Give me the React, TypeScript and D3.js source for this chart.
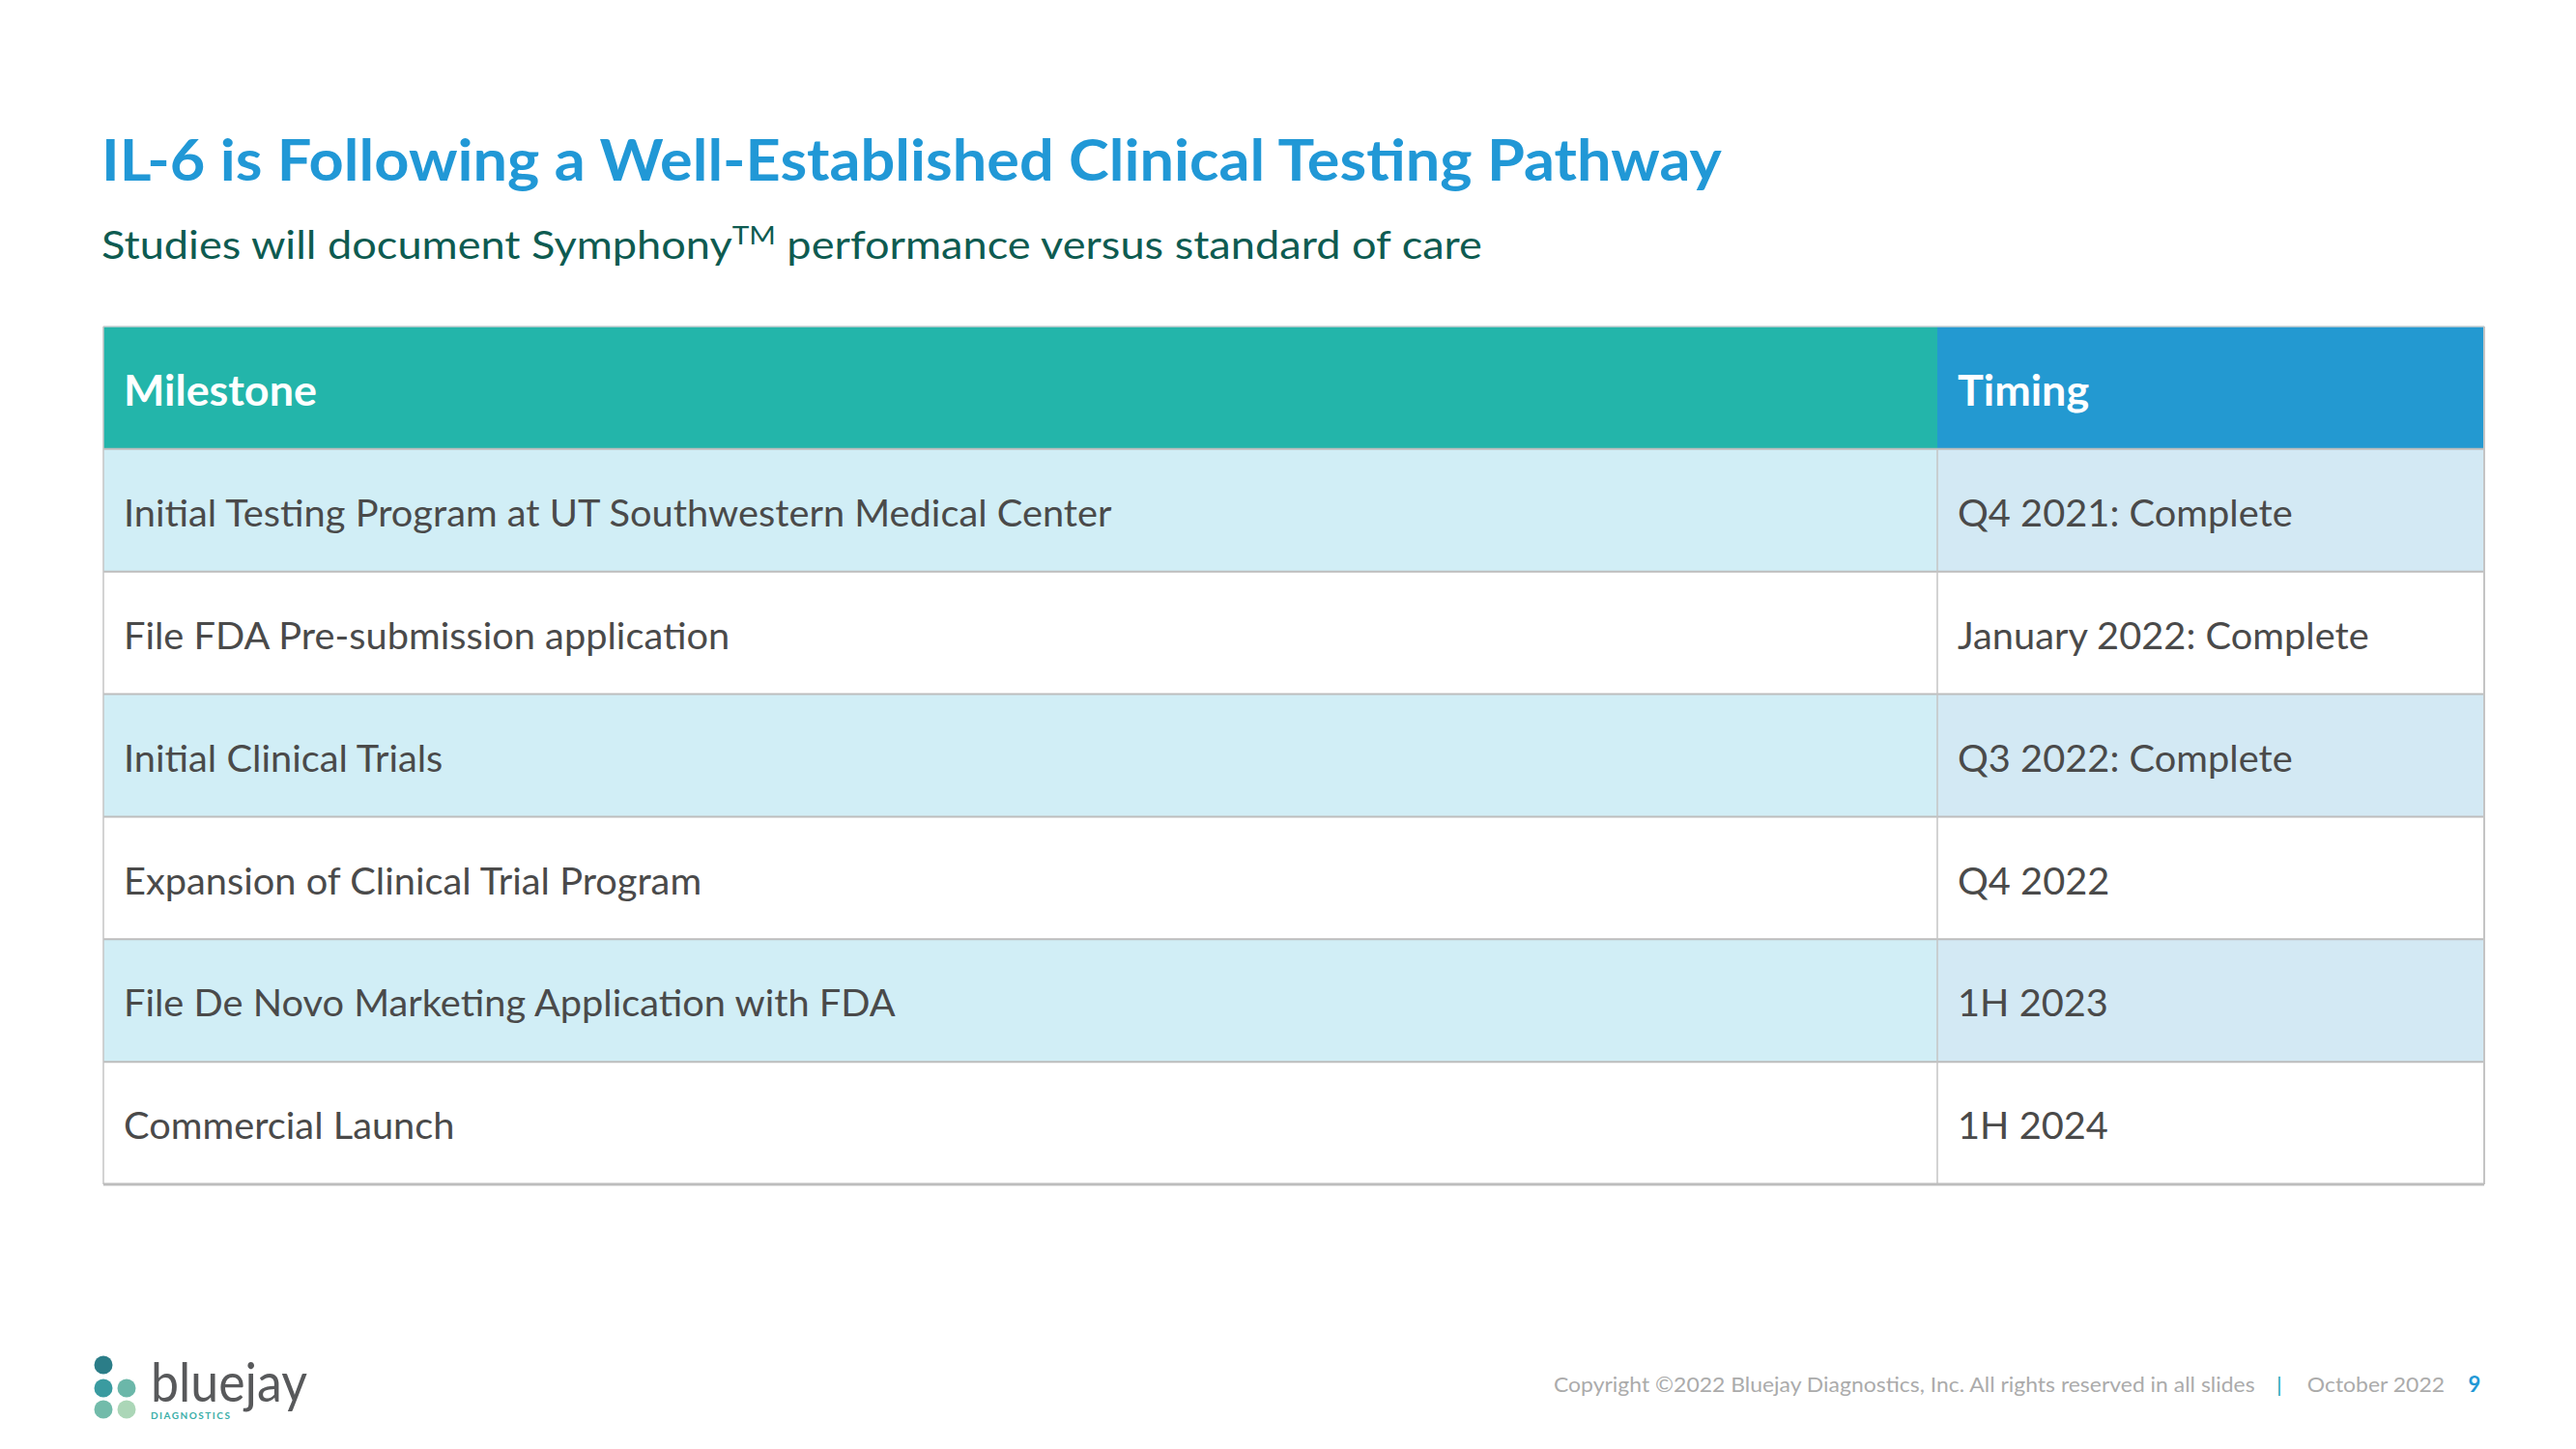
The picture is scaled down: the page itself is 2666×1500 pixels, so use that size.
import React, { useLayoutEffect, useRef, useState } from "react";
import * as d3 from "d3";

// ---------- data ----------
const TITLE = "IL-6 is Following a Well-Established Clinical Testing Pathway";
const SUBTITLE_A = "Studies will document Symphony";
const SUBTITLE_SUP = "TM";
const SUBTITLE_B = " performance versus standard of care";
const HEADERS = ["Milestone", "Timing"];
const MILESTONES = [
  "Initial Testing Program at UT Southwestern Medical Center",
  "File FDA Pre-submission application",
  "Initial Clinical Trials",
  "Expansion of Clinical Trial Program",
  "File De Novo Marketing Application with FDA",
  "Commercial Launch",
];
const TIMINGS = [
  "Q4 2021: Complete",
  "January 2022: Complete",
  "Q3 2022: Complete",
  "Q4 2022",
  "1H 2023",
  "1H 2024",
];
const FOOTER_COPY = "Copyright ©2022 Bluejay Diagnostics, Inc. All rights reserved in all slides";
const FOOTER_DATE = "October  2022";
const PAGE_NUM = "9";

// ---------- layout / style ----------
const W = 2666;
const H = 1500;
const FONT = "Lato, 'Open Sans', sans-serif";
const TABLE = { x0: 107, x1: 2571, split: 2005, y0: 338, y1: 1226 };
const PAD = 21;

// calibration widths (px) for horizontal font compression per style
const CAL = {
  title: 1677,
  subtitle: 1429,
  header: 200,
  body: 1023,
  footer: 726,
  logo: 162,
};

export default function App() {
  const refs = {
    title: useRef<SVGTextElement>(null),
    subtitle: useRef<SVGTextElement>(null),
    header: useRef<SVGTextElement>(null),
    body: useRef<SVGTextElement>(null),
    footer: useRef<SVGTextElement>(null),
    logo: useRef<SVGTextElement>(null),
  };
  const [sx, setSx] = useState<Record<string, number>>({
    title: 1, subtitle: 1, header: 1, body: 1, footer: 1, logo: 1,
  });

  useLayoutEffect(() => {
    const next: Record<string, number> = {};
    (Object.keys(CAL) as (keyof typeof CAL)[]).forEach((k) => {
      const el = refs[k].current;
      if (el) {
        const w = el.getComputedTextLength();
        next[k] = w > 0 ? CAL[k] / w : 1;
      } else next[k] = 1;
    });
    setSx(next);
  }, []);

  const rowKeys = d3.range(MILESTONES.length + 1);
  const y = d3.scaleBand<number>().domain(rowKeys).range([TABLE.y0, TABLE.y1]);
  const colX = d3.scaleOrdinal<number, number>().domain([0, 1]).range([TABLE.x0, TABLE.split]);
  const colW = d3.scaleOrdinal<number, number>().domain([0, 1]).range([TABLE.split - TABLE.x0, TABLE.x1 - TABLE.split]);
  const rh = y.bandwidth();

  const headerFill = ["#23B5AA", "#2399D1"];
  const oddFill = ["#D1EEF6", "#D3E9F4"];
  const bodyColor = "#4A4A4A";

  const bodySize = 38;
  const headerSize = 44;

  const textAt = (x: number, yy: number, s: number) => `translate(${x},${yy}) scale(${s},1)`;

  const dots = [
    { cx: 107, cy: 1413, c: "#2B7D88" },
    { cx: 107, cy: 1437, c: "#3A9BA0" },
    { cx: 131, cy: 1437, c: "#6BB7A9" },
    { cx: 107, cy: 1459, c: "#72BBAA" },
    { cx: 131, cy: 1459, c: "#ABD6B7" },
  ];

  return (
    <svg
      width={W}
      height={H}
      viewBox={`0 0 ${W} ${H}`}
      style={{ position: "absolute", left: 0, top: 0, background: "#fff" }}
    >
      <rect width={W} height={H} fill="#ffffff" />

      {/* title */}
      <text
        ref={refs.title}
        transform={textAt(105, 187, sx.title)}
        fontFamily={FONT}
        fontWeight={700}
        fontSize={60}
        fill="#2198D6"
      >
        {TITLE}
      </text>
      <text
        ref={refs.subtitle}
        transform={textAt(105, 268, sx.subtitle)}
        fontFamily={FONT}
        fontSize={41}
        fill="#0E5B51"
      >
        {SUBTITLE_A}
        <tspan fontSize={27} dy={-15}>{SUBTITLE_SUP}</tspan>
        <tspan dy={15}>{SUBTITLE_B}</tspan>
      </text>

      {/* table cells */}
      {rowKeys.map((r) =>
        [0, 1].map((c) => {
          const fill = r === 0 ? headerFill[c] : (r - 1) % 2 === 0 ? oddFill[c] : "#FFFFFF";
          return (
            <rect
              key={`cell-${r}-${c}`}
              x={colX(c)}
              y={y(r)}
              width={colW(c)}
              height={rh}
              fill={fill}
            />
          );
        })
      )}

      {/* horizontal grid lines */}
      {rowKeys.slice(1).map((r) => (
        <line
          key={`h-${r}`}
          x1={TABLE.x0}
          x2={TABLE.x1}
          y1={y(r)}
          y2={y(r)}
          stroke="#BDBDBD"
          strokeWidth={2}
        />
      ))}
      {/* vertical divider (body only) */}
      <line
        x1={TABLE.split}
        x2={TABLE.split}
        y1={y(1)}
        y2={TABLE.y1}
        stroke="#C4C4C4"
        strokeWidth={1.5}
      />
      {/* outer border */}
      <line x1={TABLE.x0} x2={TABLE.x1} y1={TABLE.y0} y2={TABLE.y0} stroke="#C8CFD2" strokeWidth={1.5} />
      <line x1={TABLE.x0} x2={TABLE.x0} y1={TABLE.y0} y2={TABLE.y1} stroke="#C4C4C4" strokeWidth={1.5} />
      <line x1={TABLE.x1} x2={TABLE.x1} y1={TABLE.y0} y2={TABLE.y1} stroke="#C4C4C4" strokeWidth={2} />
      <line x1={TABLE.x0} x2={TABLE.x1} y1={TABLE.y1} y2={TABLE.y1} stroke="#BDBDBD" strokeWidth={3} />

      {/* header text */}
      {HEADERS.map((h, c) => (
        <text
          key={`hd-${c}`}
          ref={c === 0 ? refs.header : undefined}
          transform={textAt(colX(c) + PAD, (y(0) as number) + rh / 2 + headerSize * 0.36 + 3, sx.header)}
          fontFamily={FONT}
          fontWeight={700}
          fontSize={headerSize}
          fill="#FFFFFF"
        >
          {h}
        </text>
      ))}

      {/* body text */}
      {MILESTONES.map((m, i) => (
        <text
          key={`m-${i}`}
          ref={i === 0 ? refs.body : undefined}
          transform={textAt(colX(0) + PAD, (y(i + 1) as number) + rh / 2 + bodySize * 0.36 + 3, sx.body)}
          fontFamily={FONT}
          fontSize={bodySize}
          fill={bodyColor}
        >
          {m}
        </text>
      ))}
      {TIMINGS.map((t, i) => (
        <text
          key={`t-${i}`}
          transform={textAt(colX(1) + PAD, (y(i + 1) as number) + rh / 2 + bodySize * 0.36 + 3, sx.body)}
          fontFamily={FONT}
          fontSize={bodySize}
          fill={bodyColor}
        >
          {t}
        </text>
      ))}

      {/* footer */}
      <text
        ref={refs.footer}
        transform={textAt(1608, 1441, sx.footer)}
        fontFamily={FONT}
        fontSize={22}
        fill="#ABABAB"
      >
        {FOOTER_COPY}
      </text>
      <text
        transform={textAt(2356, 1441, sx.footer)}
        fontFamily={FONT}
        fontSize={22}
        fill="#2AA6B8"
      >
        |
      </text>
      <text
        transform={textAt(2530, 1441, sx.footer)}
        textAnchor="end"
        fontFamily={FONT}
        fontSize={22}
        fill="#ABABAB"
      >
        {FOOTER_DATE}
      </text>
      <text
        x={2561}
        y={1441}
        textAnchor="middle"
        fontFamily={FONT}
        fontWeight={700}
        fontSize={22}
        fill="#2198D6"
      >
        {PAGE_NUM}
      </text>

      {/* logo */}
      {dots.map((d, i) => (
        <circle key={`dot-${i}`} cx={d.cx} cy={d.cy} r={9.5} fill={d.c} />
      ))}
      <text
        ref={refs.logo}
        transform={textAt(156, 1451, sx.logo)}
        fontFamily={FONT}
        fontSize={56}
        fill="#58595B"
      >
        bluejay
      </text>
      <text
        x={156}
        y={1469}
        fontFamily={FONT}
        fontWeight={700}
        fontSize={10}
        letterSpacing={1.5}
        fill="#3AAEA8"
      >
        DIAGNOSTICS
      </text>
    </svg>
  );
}
